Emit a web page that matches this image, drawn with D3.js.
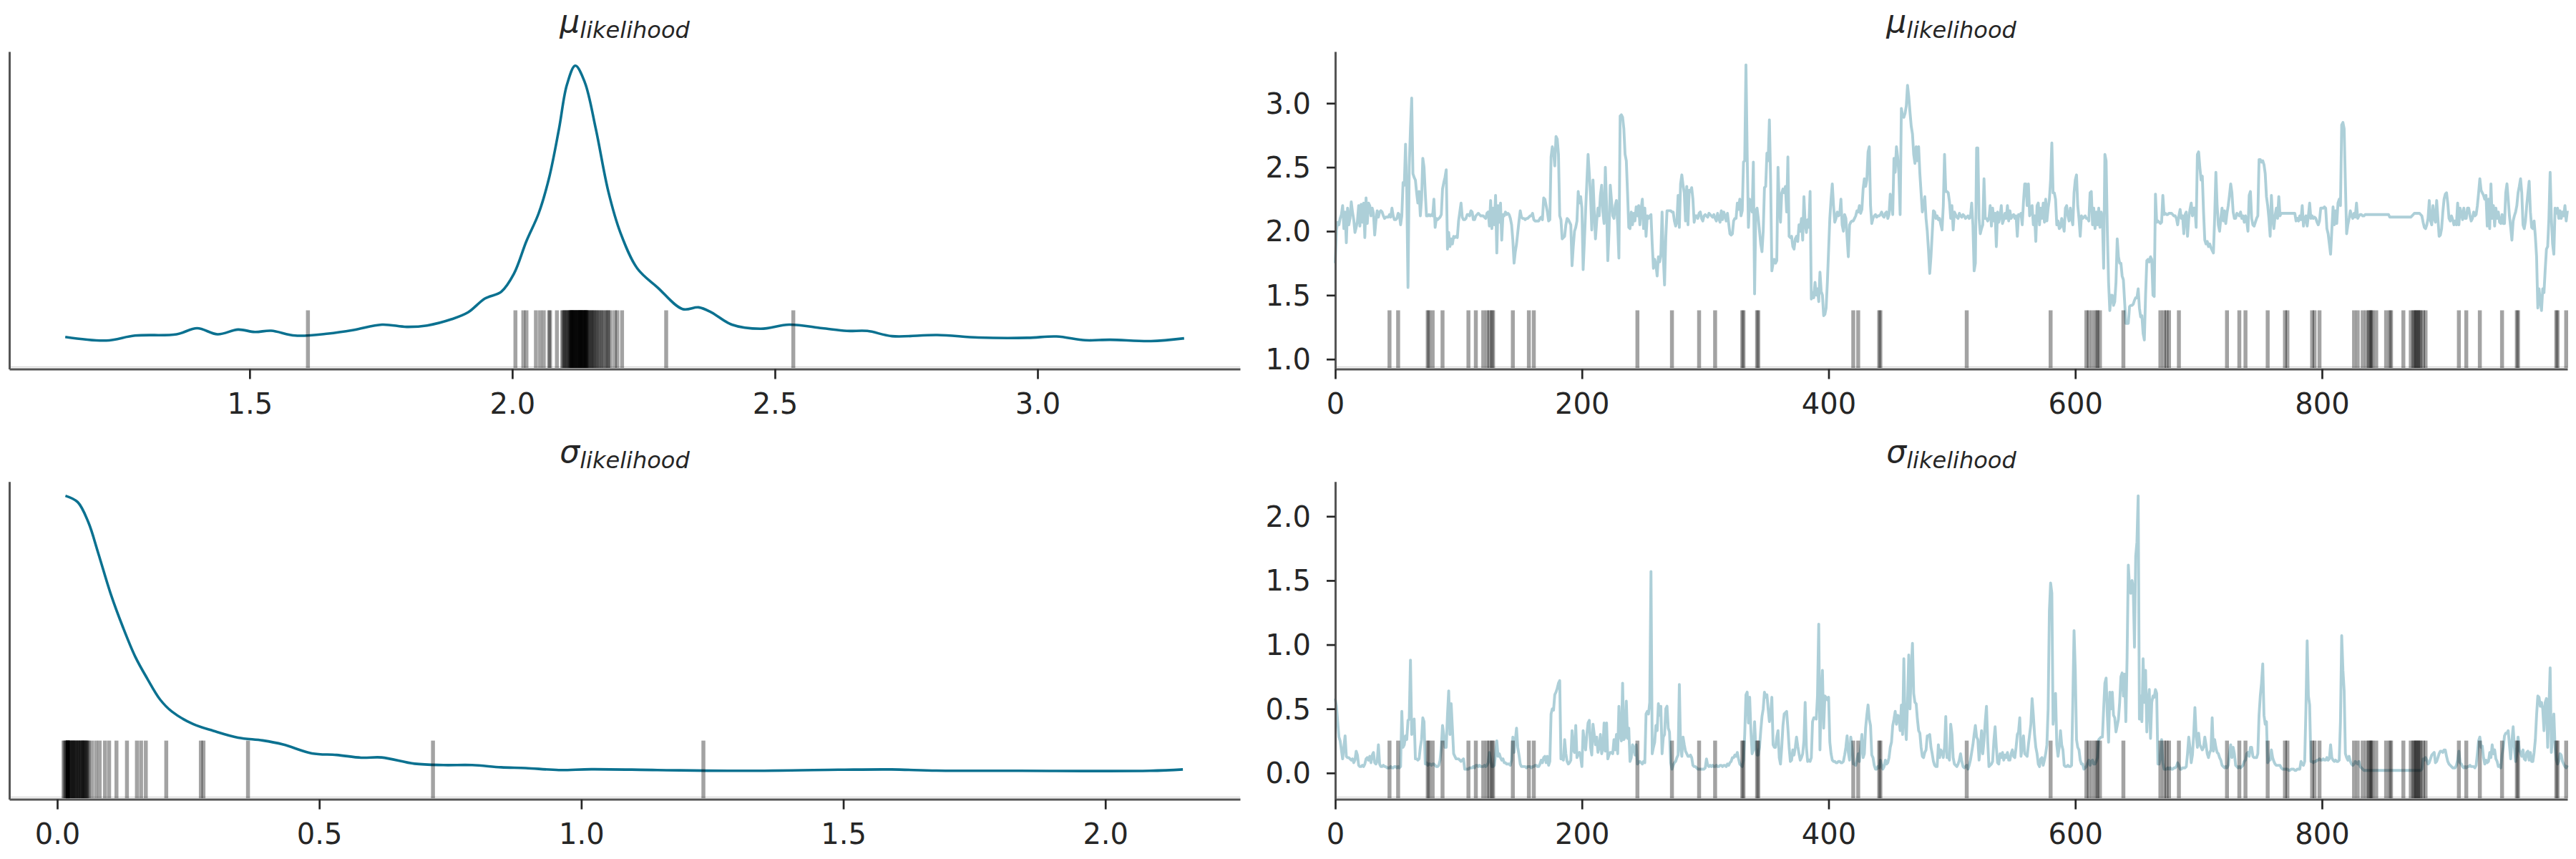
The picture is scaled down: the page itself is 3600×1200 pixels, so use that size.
<!DOCTYPE html>
<html><head><meta charset="utf-8">
<script src="https://cdn.jsdelivr.net/npm/d3@7"></script>
<style>
html,body{margin:0;padding:0;background:#fff;}
svg{display:block;font-family:"DejaVu Sans",sans-serif;}
</style></head><body>
<svg id="chart" width="3600" height="1200"></svg>
<script>
// ---- data ----
const muTrace = [
1.75,2.01,2.07,2.05,2.10,2.13,2.20,2.02,2.15,1.91,
2.18,2.05,2.10,2.23,2.15,2.09,1.99,2.03,2.08,2.20,
2.04,2.21,2.07,2.22,1.95,2.26,2.06,2.22,2.20,2.12,
2.18,2.14,1.97,2.08,2.16,2.11,2.15,2.16,2.15,2.12,
2.10,2.11,2.11,2.11,2.13,2.11,2.18,2.12,2.09,2.09,
2.10,2.14,2.13,2.05,2.12,2.38,2.36,2.68,2.31,1.56,
2.50,2.80,3.04,2.45,2.42,2.40,2.30,2.22,2.31,2.12,
2.25,2.57,2.50,2.30,2.12,2.12,2.13,2.12,2.13,2.12,
2.25,2.03,2.10,2.09,2.10,2.11,2.13,2.33,2.38,2.42,
2.48,1.86,1.99,1.88,1.94,1.90,1.96,1.95,1.96,1.95,
2.08,2.15,2.22,2.11,2.09,2.09,2.10,2.13,2.13,2.12,
2.16,2.15,2.09,2.09,2.12,2.13,2.14,2.13,2.12,2.12,
2.12,2.11,2.10,2.14,2.15,2.04,2.24,2.02,2.18,2.05,
2.28,1.83,2.20,2.07,2.22,1.93,2.13,2.12,2.15,2.13,
2.14,2.13,2.10,2.05,1.93,1.75,1.84,1.90,1.99,2.08,
2.16,2.11,2.10,2.10,2.09,2.10,2.10,2.11,2.12,2.12,
2.14,2.09,2.08,2.08,2.08,2.08,2.10,2.11,2.09,2.26,
2.25,2.20,2.15,2.08,2.09,2.58,2.66,2.62,2.51,2.74,
2.72,2.60,2.12,2.09,1.94,1.95,1.96,2.05,2.10,2.09,
2.07,2.05,1.73,1.88,2.00,2.03,2.08,2.31,2.22,2.27,
2.18,1.70,1.92,2.16,2.38,2.60,2.45,2.27,2.01,2.40,
2.16,1.94,2.08,2.18,2.12,2.28,2.36,2.15,2.06,2.50,
2.20,1.77,2.00,2.36,2.24,2.12,2.10,2.20,2.24,2.05,
1.79,2.90,2.91,2.89,2.80,2.60,2.55,2.30,2.03,2.02,
2.15,2.05,2.14,2.08,2.19,2.12,2.20,2.05,2.17,2.25,
2.02,2.18,1.96,2.12,2.10,2.12,2.13,1.90,1.71,1.78,
1.74,1.65,1.80,1.76,1.82,2.15,1.80,1.58,1.95,2.16,
2.16,2.16,2.16,2.15,2.15,2.08,2.04,2.07,2.28,2.03,
2.37,2.44,2.36,2.30,2.08,2.35,2.05,2.32,2.31,2.34,
2.25,2.07,2.12,2.12,2.10,2.14,2.15,2.10,2.08,2.12,
2.13,2.12,2.11,2.14,2.13,2.12,2.11,2.13,2.10,2.08,
2.14,2.10,2.07,2.16,2.09,2.15,2.12,2.08,2.14,2.06,
1.98,1.97,1.98,2.08,2.10,2.10,2.22,2.17,2.25,2.12,
2.16,2.54,2.55,3.30,2.60,2.03,2.25,2.20,2.15,2.54,
1.51,2.16,2.18,2.10,2.00,1.90,1.84,2.00,2.34,2.35,
2.61,2.55,2.87,2.40,1.69,1.75,1.78,1.75,1.77,2.50,
2.20,2.07,2.30,2.33,2.30,2.35,2.15,2.58,1.96,1.95,
1.96,1.88,1.86,1.94,1.96,1.92,2.05,2.00,2.10,1.93,
2.27,2.06,1.99,2.09,2.03,2.31,1.47,1.52,1.48,1.60,
1.50,1.55,1.45,1.68,1.53,1.50,1.34,1.35,1.40,1.60,
1.85,2.10,2.25,2.37,2.20,2.07,2.10,2.15,2.12,2.13,
2.25,2.05,2.00,2.13,2.10,1.95,1.80,2.05,2.07,2.08,
2.08,2.10,2.12,2.16,2.15,2.20,2.14,2.17,2.33,2.41,
2.35,2.40,2.62,2.66,2.20,2.06,2.10,2.12,2.13,2.11,
2.12,2.12,2.13,2.15,2.12,2.11,2.14,2.15,2.10,2.13,
2.29,2.20,2.13,2.57,2.46,2.66,2.58,2.45,2.13,2.96,
2.90,2.89,2.92,2.98,3.14,3.05,2.93,2.82,2.76,2.60,
2.53,2.66,2.55,2.66,2.45,2.30,2.15,2.20,2.27,2.10,
2.00,1.85,1.67,1.80,1.98,2.16,2.15,2.10,2.12,2.09,
2.10,2.05,2.01,2.20,2.60,2.31,2.31,2.30,2.23,2.10,
2.20,2.01,2.15,2.13,2.11,2.10,2.14,2.12,2.11,2.13,
2.12,2.10,2.11,2.12,2.10,2.11,2.22,2.05,1.69,1.75,
2.65,2.65,2.10,1.98,2.02,2.05,2.41,2.10,2.10,2.08,
2.10,2.20,2.04,2.18,2.08,2.14,1.88,2.15,2.07,2.12,
2.20,2.06,2.09,2.14,2.10,2.20,2.08,2.16,2.10,2.12,
2.13,2.10,2.12,1.96,2.13,2.12,2.14,2.05,2.23,2.37,
2.37,2.20,2.37,2.12,2.15,2.20,2.05,2.12,1.92,2.20,
2.22,2.05,2.18,2.10,2.22,2.07,2.25,2.08,2.18,2.25,
2.40,2.69,2.30,2.30,2.25,2.05,2.08,2.02,2.03,2.10,
2.05,2.00,2.18,2.20,2.12,2.08,2.18,2.10,2.05,2.30,
2.40,2.44,2.20,2.10,1.96,2.12,2.10,2.11,2.12,2.10,
2.10,2.08,2.30,2.31,2.05,2.18,2.02,2.15,2.05,2.18,
2.03,2.15,2.10,1.71,2.60,2.55,2.00,1.60,1.38,1.50,
1.50,1.42,1.45,1.60,1.94,1.80,1.75,1.75,1.65,1.62,
1.45,1.28,1.28,1.28,1.41,1.42,1.42,1.43,1.46,1.48,
1.48,1.55,1.40,1.33,1.34,1.20,1.15,1.50,1.77,1.78,
1.76,1.80,1.78,1.50,1.49,2.29,2.07,2.08,2.07,2.06,
2.07,2.28,2.13,2.14,2.13,2.13,2.14,2.14,2.14,2.13,
2.12,2.12,2.10,2.05,2.12,2.17,2.10,2.12,1.98,2.13,
2.15,1.96,2.10,2.17,2.22,2.12,2.18,2.18,2.03,2.60,
2.62,2.50,2.40,2.43,2.15,1.93,1.90,1.92,1.88,1.90,
1.87,1.85,1.83,2.10,2.46,2.20,2.05,2.00,2.10,2.18,
2.08,2.16,2.06,2.14,2.20,2.28,2.37,2.30,2.15,2.10,
2.10,2.14,2.13,2.12,2.15,2.10,2.12,2.07,2.12,2.08,
2.00,2.28,2.31,2.10,2.05,2.04,2.07,2.10,2.12,2.56,
2.56,2.54,2.55,2.52,2.45,2.27,2.20,2.10,1.96,2.28,
2.10,2.02,2.12,2.18,2.10,2.27,2.12,2.14,2.14,2.14,
2.14,2.14,2.14,2.14,2.14,2.14,2.14,2.14,2.14,2.08,
2.10,2.08,2.12,2.09,2.20,2.04,2.10,2.12,2.04,2.12,
2.22,2.10,2.12,2.10,2.11,2.10,2.07,2.05,2.08,2.18,
2.18,2.18,2.19,2.18,2.02,1.98,1.90,1.82,2.01,2.19,
2.05,2.16,2.06,2.22,2.25,2.20,2.83,2.85,2.80,2.37,
1.98,2.05,2.10,2.16,2.12,2.10,2.14,2.11,2.22,2.10,
2.12,2.13,2.13,2.12,2.12,2.13,2.13,2.13,2.13,2.13,
2.13,2.13,2.13,2.13,2.13,2.13,2.13,2.13,2.13,2.13,
2.13,2.13,2.13,2.13,2.13,2.11,2.11,2.11,2.11,2.11,
2.11,2.11,2.11,2.11,2.11,2.11,2.11,2.11,2.11,2.11,
2.11,2.11,2.11,2.12,2.13,2.14,2.14,2.14,2.14,2.14,
2.13,2.12,2.07,2.03,2.02,2.05,2.10,2.24,2.08,2.05,
2.20,2.10,2.07,2.24,2.10,1.96,1.97,2.02,2.15,2.25,
2.29,2.30,2.22,2.10,2.08,2.12,2.09,2.05,2.08,2.05,
2.22,2.05,2.18,2.14,2.09,2.18,2.10,2.10,2.18,2.18,
2.12,2.08,2.10,2.15,2.12,2.13,2.20,2.30,2.41,2.32,
2.30,2.28,2.25,2.28,2.04,2.25,2.02,2.37,2.10,2.20,
2.04,2.18,2.10,2.15,2.07,2.06,2.13,2.06,2.06,2.30,
2.37,2.25,2.12,2.03,1.93,2.08,2.12,2.15,2.20,2.30,
2.35,2.41,2.30,2.05,2.02,2.08,2.20,2.30,2.39,2.15,
2.03,2.02,2.08,1.96,1.80,1.40,1.55,1.45,1.38,1.55,
1.52,1.70,1.86,1.88,2.10,2.46,2.10,1.90,1.82,2.18,
2.14,2.18,2.10,2.16,2.10,2.15,2.12,2.20,2.08,2.16
];
const sigmaTrace = [
0.58,0.52,0.40,0.28,0.25,0.18,0.11,0.20,0.29,0.13,
0.12,0.12,0.11,0.10,0.11,0.08,0.10,0.17,0.14,0.06,
0.05,0.05,0.06,0.05,0.07,0.11,0.12,0.10,0.13,0.08,
0.14,0.16,0.08,0.07,0.09,0.22,0.07,0.05,0.05,0.06,
0.05,0.05,0.04,0.04,0.04,0.05,0.04,0.04,0.05,0.05,
0.04,0.05,0.04,0.05,0.48,0.20,0.22,0.29,0.26,0.41,
0.42,0.88,0.30,0.32,0.42,0.11,0.11,0.10,0.11,0.20,
0.26,0.43,0.40,0.07,0.08,0.06,0.07,0.07,0.06,0.07,
0.07,0.06,0.05,0.05,0.06,0.10,0.20,0.37,0.30,0.20,
0.20,0.45,0.64,0.30,0.54,0.35,0.15,0.13,0.11,0.11,
0.11,0.10,0.09,0.10,0.11,0.03,0.03,0.03,0.03,0.04,
0.04,0.04,0.05,0.04,0.06,0.06,0.05,0.06,0.05,0.05,
0.05,0.06,0.05,0.06,0.08,0.16,0.10,0.05,0.05,0.06,
0.15,0.25,0.13,0.15,0.12,0.10,0.11,0.08,0.08,0.07,
0.07,0.07,0.06,0.10,0.28,0.16,0.25,0.35,0.20,0.14,
0.07,0.05,0.05,0.05,0.05,0.04,0.05,0.05,0.05,0.04,
0.05,0.05,0.06,0.06,0.05,0.05,0.07,0.10,0.08,0.12,
0.13,0.08,0.13,0.06,0.09,0.46,0.50,0.49,0.61,0.63,
0.66,0.70,0.72,0.11,0.11,0.10,0.26,0.15,0.09,0.07,
0.08,0.10,0.33,0.18,0.16,0.37,0.12,0.15,0.16,0.12,
0.05,0.33,0.24,0.18,0.30,0.39,0.41,0.20,0.14,0.38,
0.30,0.22,0.28,0.16,0.20,0.30,0.15,0.19,0.39,0.17,
0.39,0.11,0.14,0.16,0.16,0.15,0.26,0.18,0.30,0.15,
0.52,0.30,0.25,0.70,0.26,0.28,0.56,0.27,0.35,0.09,
0.12,0.22,0.20,0.14,0.22,0.07,0.08,0.09,0.08,0.07,
0.09,0.08,0.46,0.48,0.46,0.55,1.57,0.15,0.20,0.24,
0.37,0.33,0.54,0.45,0.52,0.15,0.28,0.30,0.50,0.52,
0.35,0.32,0.08,0.03,0.06,0.08,0.09,0.12,0.14,0.69,
0.20,0.13,0.28,0.22,0.17,0.15,0.13,0.13,0.14,0.12,
0.06,0.05,0.05,0.04,0.03,0.03,0.03,0.03,0.03,0.03,
0.04,0.11,0.06,0.05,0.06,0.05,0.06,0.05,0.05,0.06,
0.05,0.05,0.06,0.06,0.05,0.06,0.06,0.05,0.07,0.06,
0.08,0.09,0.12,0.12,0.14,0.13,0.16,0.11,0.07,0.06,
0.05,0.10,0.30,0.61,0.63,0.39,0.59,0.33,0.15,0.18,
0.40,0.20,0.14,0.14,0.20,0.33,0.44,0.50,0.63,0.59,
0.61,0.50,0.40,0.46,0.59,0.22,0.20,0.20,0.28,0.33,
0.12,0.07,0.20,0.37,0.46,0.47,0.48,0.35,0.20,0.09,
0.10,0.18,0.14,0.20,0.28,0.21,0.15,0.10,0.12,0.15,
0.25,0.55,0.20,0.09,0.10,0.09,0.12,0.40,0.43,0.43,
0.42,0.60,1.16,0.18,0.60,0.80,0.35,0.60,0.59,0.57,
0.59,0.24,0.15,0.10,0.09,0.09,0.08,0.08,0.09,0.09,
0.08,0.08,0.09,0.14,0.20,0.29,0.16,0.10,0.28,0.20,
0.07,0.07,0.06,0.10,0.15,0.09,0.20,0.30,0.12,0.15,
0.35,0.45,0.53,0.42,0.37,0.14,0.12,0.06,0.03,0.03,
0.05,0.04,0.10,0.06,0.03,0.05,0.10,0.07,0.08,0.12,
0.20,0.24,0.37,0.42,0.48,0.38,0.45,0.44,0.33,0.53,
0.30,0.89,0.40,0.26,0.55,0.92,0.50,0.80,1.01,0.62,
0.55,0.54,0.42,0.33,0.31,0.20,0.13,0.12,0.16,0.18,
0.29,0.29,0.30,0.20,0.15,0.09,0.06,0.05,0.05,0.22,
0.12,0.18,0.16,0.12,0.20,0.44,0.12,0.13,0.10,0.38,
0.30,0.12,0.07,0.06,0.05,0.07,0.10,0.15,0.09,0.05,
0.04,0.05,0.06,0.03,0.06,0.10,0.16,0.22,0.30,0.37,
0.28,0.26,0.10,0.20,0.33,0.15,0.25,0.40,0.52,0.25,
0.05,0.06,0.07,0.09,0.25,0.36,0.20,0.08,0.07,0.15,
0.12,0.16,0.10,0.14,0.12,0.16,0.10,0.10,0.15,0.18,
0.13,0.12,0.20,0.30,0.32,0.43,0.13,0.20,0.29,0.15,
0.14,0.13,0.22,0.30,0.38,0.58,0.45,0.30,0.20,0.15,
0.07,0.05,0.11,0.12,0.06,0.10,0.15,0.22,0.50,1.26,
1.48,1.40,0.38,0.50,0.62,0.22,0.13,0.20,0.33,0.22,
0.18,0.06,0.05,0.05,0.06,0.05,0.05,0.06,0.55,1.11,
0.80,0.26,0.20,0.18,0.10,0.07,0.07,0.03,0.04,0.05,
0.08,0.10,0.06,0.09,0.10,0.07,0.07,0.09,0.12,0.26,
0.27,0.28,0.28,0.50,0.70,0.74,0.45,0.24,0.63,0.50,
0.63,0.45,0.43,0.32,0.37,0.42,0.55,0.75,0.78,0.60,
0.77,0.40,0.90,1.62,1.45,1.40,1.50,1.44,0.98,1.69,
1.80,2.16,0.42,0.60,0.40,0.89,0.55,0.80,0.32,0.55,
0.65,0.27,0.55,0.60,0.59,0.65,0.62,0.07,0.07,0.12,
0.26,0.08,0.03,0.03,0.03,0.04,0.03,0.04,0.03,0.03,
0.04,0.04,0.05,0.08,0.06,0.03,0.03,0.04,0.04,0.04,
0.05,0.15,0.28,0.20,0.08,0.14,0.30,0.51,0.30,0.20,
0.31,0.22,0.20,0.18,0.20,0.28,0.22,0.15,0.12,0.16,
0.18,0.43,0.17,0.26,0.20,0.16,0.15,0.12,0.10,0.06,
0.05,0.04,0.05,0.04,0.06,0.15,0.22,0.12,0.20,0.15,
0.06,0.05,0.04,0.05,0.04,0.05,0.06,0.09,0.10,0.15,
0.16,0.13,0.20,0.20,0.13,0.12,0.12,0.12,0.15,0.45,
0.60,0.70,0.85,0.45,0.38,0.40,0.08,0.10,0.10,0.18,
0.12,0.09,0.07,0.06,0.06,0.06,0.06,0.04,0.03,0.03,
0.03,0.03,0.03,0.02,0.02,0.03,0.03,0.03,0.02,0.02,
0.03,0.03,0.03,0.09,0.07,0.06,0.09,0.50,1.03,0.60,
0.53,0.09,0.09,0.08,0.09,0.09,0.10,0.10,0.11,0.10,
0.10,0.11,0.10,0.10,0.12,0.10,0.11,0.22,0.12,0.10,
0.09,0.10,0.09,0.09,0.10,0.40,1.07,0.80,0.64,0.15,
0.12,0.10,0.13,0.09,0.07,0.06,0.07,0.09,0.08,0.07,
0.09,0.05,0.04,0.03,0.02,0.02,0.02,0.02,0.02,0.02,
0.02,0.02,0.02,0.02,0.02,0.02,0.02,0.02,0.02,0.02,
0.02,0.02,0.02,0.02,0.02,0.02,0.02,0.02,0.02,0.02,
0.02,0.02,0.02,0.02,0.02,0.02,0.02,0.02,0.02,0.02,
0.02,0.02,0.02,0.02,0.02,0.02,0.02,0.02,0.02,0.02,
0.02,0.03,0.11,0.10,0.12,0.10,0.07,0.08,0.11,0.14,
0.15,0.16,0.08,0.09,0.12,0.15,0.17,0.17,0.16,0.18,
0.18,0.13,0.09,0.07,0.06,0.05,0.04,0.04,0.04,0.06,
0.10,0.17,0.08,0.07,0.05,0.04,0.05,0.04,0.05,0.05,
0.06,0.05,0.05,0.05,0.04,0.06,0.15,0.25,0.28,0.20,
0.21,0.12,0.07,0.10,0.08,0.09,0.16,0.12,0.22,0.15,
0.18,0.11,0.09,0.05,0.06,0.04,0.14,0.20,0.29,0.31,
0.31,0.33,0.22,0.11,0.25,0.36,0.20,0.09,0.15,0.28,
0.18,0.16,0.13,0.18,0.11,0.10,0.16,0.17,0.10,0.16,
0.09,0.09,0.16,0.26,0.45,0.60,0.59,0.52,0.55,0.50,
0.33,0.55,0.58,0.20,0.50,0.82,0.16,0.30,0.46,0.20,
0.10,0.07,0.09,0.15,0.14,0.09,0.07,0.05,0.04,0.06
];
// KDE curves (grid value, density height)
const muKdeX = [1.149,1.227,1.282,1.361,1.400,1.439,1.478,1.510,1.541,1.587,1.650,1.698,1.752,1.799,1.838,1.885,1.916,1.948,1.979,2.003,2.027,2.050,2.070,2.089,2.104,2.120,2.138,2.159,2.183,2.206,2.238,2.277,2.324,2.355,2.379,2.418,2.473,2.527,2.590,2.637,2.676,2.723,2.809,2.887,2.981,3.036,3.091,3.138,3.216,3.279];
const muKdeY = [0.448,0.398,0.467,0.485,0.570,0.485,0.551,0.517,0.535,0.467,0.495,0.545,0.620,0.589,0.608,0.697,0.792,0.985,1.079,1.328,1.787,2.170,2.667,3.356,3.969,4.237,4.007,3.356,2.476,1.902,1.405,1.137,0.838,0.861,0.792,0.620,0.563,0.620,0.570,0.532,0.532,0.459,0.475,0.440,0.436,0.455,0.402,0.409,0.390,0.429];
const sigmaKdeX = [0.0156,0.039,0.0596,0.078,0.102,0.125,0.149,0.172,0.196,0.219,0.259,0.298,0.345,0.392,0.431,0.486,0.533,0.580,0.619,0.682,0.737,0.792,0.847,0.894,0.957,1.019,1.145,1.301,1.490,1.592,1.678,1.835,2.085,2.148];
const sigmaKdeY = [4.24,4.152,3.866,3.444,2.87,2.411,1.99,1.683,1.396,1.224,1.052,0.956,0.861,0.822,0.766,0.642,0.62,0.581,0.585,0.497,0.478,0.478,0.447,0.436,0.409,0.42,0.409,0.398,0.413,0.417,0.401,0.398,0.398,0.417];
// divergent draws (trace rugs) and their values (density rugs)
const divDraws = [44,51,75,76,79,87,108,114,120,123,125,127,128,144,157,161,245,273,295,308,330,331,342,343,420,424,441,442,512,580,609,611,614,617,618,620,639,669,672,674,676,684,723,733,738,756,770,772,792,794,798,826,829,833,836,838,839,840,841,844,852,855,856,866,872,874,875,876,877,878,879,880,882,884,911,917,928,946,958,959,990,991,998];
const divMu = [1.611,2.006,2.021,2.027,2.045,2.053,2.060,2.070,2.072,2.085,2.095,2.097,2.099,2.101,2.103,2.105,2.107,2.109,2.110,2.111,2.112,2.113,2.113,2.114,2.115,2.116,2.117,2.118,2.119,2.120,2.121,2.122,2.123,2.124,2.125,2.126,2.127,2.128,2.129,2.130,2.130,2.131,2.132,2.133,2.134,2.135,2.136,2.137,2.138,2.139,2.140,2.140,2.141,2.142,2.143,2.145,2.147,2.149,2.151,2.153,2.155,2.157,2.160,2.162,2.165,2.168,2.171,2.174,2.178,2.181,2.183,2.187,2.195,2.200,2.209,2.293,2.535];
const divSigma = [0.012,0.014,0.016,0.018,0.020,0.020,0.020,0.020,0.020,0.020,0.021,0.022,0.024,0.025,0.027,0.028,0.030,0.030,0.032,0.033,0.035,0.036,0.038,0.040,0.040,0.042,0.044,0.045,0.047,0.048,0.050,0.050,0.052,0.053,0.055,0.057,0.058,0.060,0.066,0.074,0.081,0.091,0.099,0.113,0.133,0.152,0.160,0.169,0.208,0.274,0.279,0.364,0.717,1.233];
// tick labels
const muDensTicks = [1.5,2.0,2.5,3.0];
const sigmaDensTicks = [0.0,0.5,1.0,1.5,2.0];
const drawTicks = [0,200,400,600,800];
const muTraceTicks = [1.0,1.5,2.0,2.5,3.0];
const sigmaTraceTicks = [0.0,0.5,1.0,1.5,2.0];

// ---- drawing ----
const svg = d3.select("#chart");
const KDE_COLOR = "#0b7190";
const TEXT_COLOR = "#262626";
const SPINE_COLOR = "#555555";
const RUG_LEN = 82;

const leftX = [13, 1733], rightX = [1866, 3588];
const topY = [515.5, 72], botY = [1116.6, 672.7];

function panel(opts) {
  const g = svg.append("g");
  const x = d3.scaleLinear().domain(opts.xDomain).range(opts.xRange);
  const y = d3.scaleLinear().domain(opts.yDomain).range(opts.yRange);
  const y0 = opts.yRange[0];

  g.append("line").attr("x1", opts.xRange[0]).attr("x2", opts.xRange[1])
    .attr("y1", y0 - 3).attr("y2", y0 - 3)
    .attr("stroke", "#d9d9d9").attr("stroke-width", 1.5);

  if (opts.kdeX) {
    const pts = opts.kdeX.map((v, i) => [v, opts.kdeY[i]]);
    g.append("path").datum(pts)
      .attr("fill", "none").attr("stroke", KDE_COLOR).attr("stroke-width", 3.6)
      .attr("stroke-linejoin", "round")
      .attr("d", d3.line().x(d => x(d[0])).y(d => y(d[1])).curve(d3.curveCatmullRom.alpha(0.5)));
  }
  if (opts.trace) {
    g.append("path").datum(opts.trace)
      .attr("fill", "none").attr("stroke", "#0f718e").attr("stroke-opacity", 0.34)
      .attr("stroke-width", 3.9).attr("stroke-linejoin", "round")
      .attr("d", d3.line().x((d, i) => x(i)).y(d => y(d)));
  }
  g.append("g").selectAll("line").data(opts.rug).join("line")
    .attr("x1", d => x(d)).attr("x2", d => x(d))
    .attr("y1", y0 - 1.5).attr("y2", y0 - RUG_LEN)
    .attr("stroke", "#000").attr("stroke-opacity", 0.36).attr("stroke-width", 5.5);

  const xa = g.append("g").attr("transform", `translate(0,${y0})`)
    .call(d3.axisBottom(x).tickValues(opts.xTicks).tickFormat(opts.xFormat).tickSize(14).tickSizeOuter(0));
  xa.select(".domain").attr("stroke", SPINE_COLOR).attr("stroke-width", 3);
  xa.selectAll(".tick line").attr("stroke", TEXT_COLOR).attr("stroke-width", 2.7);
  xa.selectAll(".tick text").attr("y", 62).attr("dy", null)
    .attr("fill", TEXT_COLOR).attr("font-size", 40).attr("font-family", "DejaVu Sans");

  const ya = g.append("g").attr("transform", `translate(${opts.xRange[0]},0)`)
    .call(d3.axisLeft(y).tickValues(opts.yTicks || []).tickFormat(d3.format(".1f")).tickSize(12).tickSizeOuter(0));
  ya.select(".domain").attr("stroke", SPINE_COLOR).attr("stroke-width", 3);
  ya.selectAll(".tick line").attr("stroke", TEXT_COLOR).attr("stroke-width", 2.7);
  ya.selectAll(".tick text").attr("x", -34).attr("dy", "0.35em")
    .attr("fill", TEXT_COLOR).attr("font-size", 40).attr("font-family", "DejaVu Sans");

  const cx = (opts.xRange[0] + opts.xRange[1]) / 2;
  const t = g.append("text").attr("x", cx).attr("y", opts.yRange[1] - 27)
    .attr("text-anchor", "middle").attr("font-style", "italic")
    .attr("font-family", "DejaVu Sans").attr("fill", TEXT_COLOR);
  t.append("tspan").attr("font-size", 44).text(opts.sym);
  t.append("tspan").attr("font-size", 32).attr("dy", 8).text("likelihood");
}

panel({ xDomain: [1.0425, 3.3855], xRange: leftX, yDomain: [0, 4.435], yRange: topY,
  kdeX: muKdeX, kdeY: muKdeY, rug: divMu, xTicks: muDensTicks, xFormat: d3.format(".1f"), sym: "μ" });
panel({ xDomain: [0, 999], xRange: rightX, yDomain: [0.923, 3.404], yRange: topY,
  trace: muTrace, rug: divDraws, xTicks: drawTicks, xFormat: d3.format("d"), yTicks: muTraceTicks, sym: "μ" });
panel({ xDomain: [-0.0915, 2.2571], xRange: leftX, yDomain: [0, 4.439], yRange: botY,
  kdeX: sigmaKdeX, kdeY: sigmaKdeY, rug: divSigma, xTicks: sigmaDensTicks, xFormat: d3.format(".1f"), sym: "σ" });
panel({ xDomain: [0, 999], xRange: rightX, yDomain: [-0.205, 2.271], yRange: botY,
  trace: sigmaTrace, rug: divDraws, xTicks: drawTicks, xFormat: d3.format("d"), yTicks: sigmaTraceTicks, sym: "σ" });
</script>
</body></html>
